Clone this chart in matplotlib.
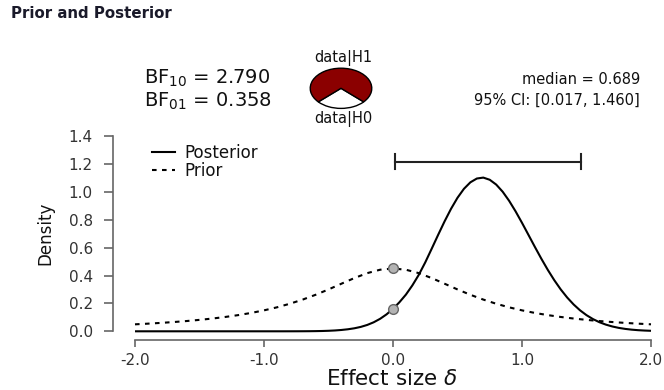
import numpy as np
import matplotlib
matplotlib.use("Agg")
import matplotlib.pyplot as plt
from matplotlib.lines import Line2D

plt.rcParams['font.family'] = ['DejaVu Sans']

# ---------------- data ----------------
delta_post = np.round(np.linspace(-2.0, 2.0, 81), 2)
posterior = [0.0] * 24 + [
    0.0001, 0.0002, 0.0004, 0.0007, 0.0013, 0.0022, 0.0037, 0.0060, 0.0095, 0.0145,
    0.0215, 0.0315, 0.0455, 0.0645, 0.0895, 0.1215, 0.1610, 0.2085, 0.2630, 0.3290,
    0.4050, 0.4940, 0.5920, 0.6915, 0.7884, 0.8783, 0.9572, 1.0215, 1.0681, 1.0952,
    1.1018, 1.0862, 1.0518, 1.0007, 0.9357, 0.8602, 0.7776, 0.6913, 0.6046, 0.5202,
    0.4403, 0.3667, 0.3005, 0.2424, 0.1925, 0.1503, 0.1157, 0.0876, 0.0652, 0.0479,
    0.0346, 0.0245, 0.0172, 0.0118, 0.0080, 0.0054, 0.0036]

delta_prior = np.round(np.linspace(-2.0, 2.0, 41), 1)
prior_half = [0.0500, 0.0548, 0.0602, 0.0664, 0.0736, 0.0819, 0.0915, 0.1028, 0.1160,
              0.1316, 0.1501, 0.1718, 0.1975, 0.2274, 0.2617, 0.3001, 0.3411, 0.3815,
              0.4169, 0.4414]
prior_peak = 0.4502
prior = prior_half + [prior_peak] + prior_half[::-1]

bf10 = 2.790
bf01 = 0.358
median = 0.689
ci_lower, ci_upper = 0.017, 1.460
ci_height = 1.216

x_ticks = [-2.0, -1.0, 0.0, 1.0, 2.0]
y_ticks = [0.0, 0.2, 0.4, 0.6, 0.8, 1.0, 1.2, 1.4]

# ---------------- figure ----------------
W, H = 664, 390
fig = plt.figure(figsize=(W / 100, H / 100), dpi=100)

def fx(px):
    return px / W

def fy(py):
    return 1 - py / H

ax = fig.add_axes([fx(135), fy(331.3), fx(651) - fx(135), fy(136) - fy(331.3)])
ax.set_xlim(-2, 2)
ax.set_ylim(0, 1.4)

axis_col = '#666666'
tick_col = '#333333'
for s in ['top', 'right']:
    ax.spines[s].set_visible(False)
ax.spines['left'].set_position(('outward', 15.8))
ax.spines['bottom'].set_position(('outward', 6.5))
ax.spines['left'].set_bounds(0, 1.4)
ax.spines['bottom'].set_bounds(-2, 2)
for s in ['left', 'bottom']:
    ax.spines[s].set_color(axis_col)
    ax.spines[s].set_linewidth(1.2)

ax.set_xticks(x_ticks)
ax.set_xticklabels([f"{v:.1f}" for v in x_ticks])
ax.set_yticks(y_ticks)
ax.set_yticklabels([f"{v:.1f}" for v in y_ticks])
ax.tick_params(axis='y', length=6.5, width=1.2, color=axis_col, labelcolor=tick_col,
               labelsize=11, pad=8)
ax.tick_params(axis='x', length=5, width=1.2, color=axis_col, labelcolor=tick_col,
               labelsize=11, pad=4)

# curves
ax.plot(delta_post, posterior, color='black', lw=1.5, solid_capstyle='butt', clip_on=False)
ax.plot(delta_prior, prior, color='black', lw=1.5, linestyle=(0, (2.2, 2.6)), clip_on=False)

# points at delta = 0
i0p = list(delta_prior).index(0.0)
i0q = list(delta_post).index(0.0)
ax.plot([0.0, 0.0], [prior[i0p], posterior[i0q]], linestyle='none', marker='o',
        markersize=7, markerfacecolor='#b3b3b3', markeredgecolor='#666666',
        markeredgewidth=1.0, clip_on=False, zorder=5)

# credible interval bar
ax.plot([ci_lower, ci_upper], [ci_height, ci_height], color='#222222', lw=1.5, clip_on=False)
ax.plot([ci_lower, ci_lower], [ci_height - 0.054, ci_height + 0.054], color='#222222', lw=1.5, clip_on=False)
ax.plot([ci_upper, ci_upper], [ci_height - 0.054, ci_height + 0.054], color='#222222', lw=1.5, clip_on=False)

ax.set_xlabel(r"Effect size $\delta$", fontsize=15.5, color='#111111')
ax.xaxis.set_label_coords(fx(392), fy(379), transform=fig.transFigure)
ax.xaxis.label.set_verticalalignment('center')
ax.set_ylabel("Density", fontsize=12, color='#111111')
ax.yaxis.set_label_coords(fx(45), fy(233), transform=fig.transFigure)
ax.yaxis.label.set_verticalalignment('center')

# legend
handles = [Line2D([], [], color='black', lw=1.5),
           Line2D([], [], color='black', lw=1.5, linestyle=(0, (2.2, 2.6)))]
ax.legend(handles, ['Posterior', 'Prior'], loc='upper left',
          bbox_to_anchor=(fx(151.5), fy(143.5)), bbox_transform=fig.transFigure,
          frameon=False, fontsize=12, handlelength=1.4, handletextpad=0.6,
          labelspacing=0.0, borderpad=0, borderaxespad=0, labelcolor='#111111')

# title
fig.text(fx(11), fy(13.5), "Prior and Posterior", fontsize=10.8, fontweight='bold',
         color='#1a1a2a', ha='left', va='center')

# BF texts
fig.text(fx(144), fy(78), r"BF$_{10}$ = " + f"{bf10:.3f}", fontsize=14, color='#111111',
         ha='left', va='center')
fig.text(fx(144), fy(101), r"BF$_{01}$ = " + f"{bf01:.3f}", fontsize=14, color='#111111',
         ha='left', va='center')

# median / CI texts
fig.text(fx(640), fy(79), f"median = {median:.3f}", fontsize=10.5, color='#111111',
         ha='right', va='center')
fig.text(fx(640), fy(100.5), f"95% CI: [{ci_lower:.3f}, {ci_upper:.3f}]", fontsize=10.5,
         color='#111111', ha='right', va='center')

# pie
pcx, pcy, prx, pry = 341, 88.3, 31.7, 20.7
pax = fig.add_axes([fx(pcx - prx), fy(pcy + pry), 2 * prx / W, 2 * pry / H])
frac_h0 = 1 / (1 + bf10)
pax.pie([1, bf10], colors=['white', '#8b0000'], startangle=270 - 180 * frac_h0,
        counterclock=True, wedgeprops=dict(edgecolor='black', linewidth=1.0))
pax.set_aspect('auto')
pax.set_xlim(-1.03, 1.03)
pax.set_ylim(-1.03, 1.03)
pax.axis('off')
fig.text(fx(343), fy(57.7), "data|H1", fontsize=10.5, color='#111111', ha='center', va='center')
fig.text(fx(343), fy(119), "data|H0", fontsize=10.5, color='#111111', ha='center', va='center')

fig.savefig("out.png", dpi=100)
